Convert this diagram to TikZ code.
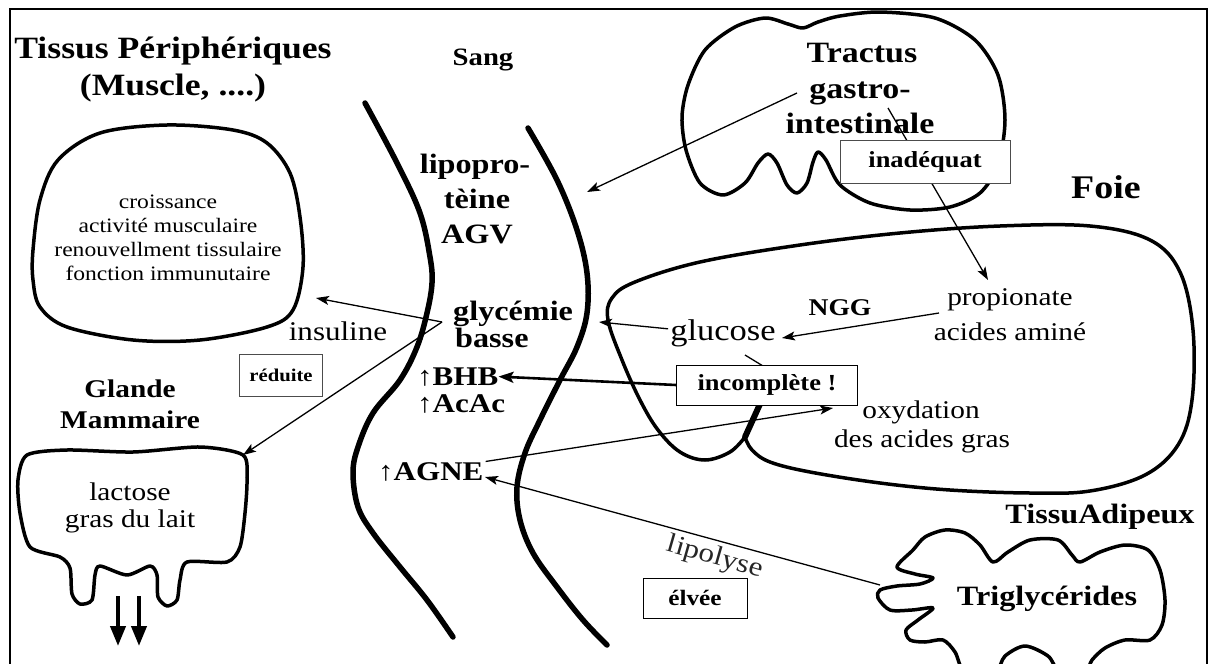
\documentclass[tikz,border=0pt]{standalone}
\usepackage{fontspec}
\setmainfont{Liberation Serif}[FakeStretch=1.15]
\usetikzlibrary{arrows.meta}
\newcommand{\fsz}[1]{\fontsize{#1pt}{#1pt}\selectfont}
\begin{document}
\begin{tikzpicture}[x=1pt,y=-1pt,
  outline/.style={line width=3.5pt, line join=round, line cap=round},
  vessel/.style={line width=5.5pt, line cap=round},
  arr/.style={line width=1.3pt, -{Stealth[length=13pt,width=9pt,inset=3pt]}},
  bigarr/.style={line width=2.6pt, -{Stealth[length=15pt,width=11pt,inset=3pt]}},
  milk/.style={line width=4pt, -{Triangle[length=20pt,width=15pt]}},
  boxed/.style={draw, line width=1pt, fill=white, inner sep=0pt, font=\bfseries\fsz{#1}},
  bl/.style={anchor=base, inner sep=0pt, font=\bfseries\fsz{#1}},
  rl/.style={anchor=base, inner sep=0pt, font=\fsz{#1}},
  blw/.style={anchor=base west, inner sep=0pt, font=\bfseries\fsz{#1}},
]
\useasboundingbox (0,0) rectangle (1213,664);
\clip (0,0) rectangle (1213,664);
\fill[white] (0,0) rectangle (1213,664);
% frame
\draw[line width=1.6pt] (10,680) -- (10,9) -- (1207,9) -- (1207,680);

% peripheral tissue blob
\draw[outline] plot[smooth cycle, tension=0.55] coordinates {
 (100,133) (167,125) (233,130) (267,143) (290,173) (300,217) (303,267)
 (293,310) (267,327) (200,340) (133,340) (67,327) (40,307) (33,280)
 (33,250) (40,200) (58,160)};

% mammary gland
\draw[outline] plot[smooth cycle, tension=0.45] coordinates {
 (27,455) (67,450) (133,452) (200,447) (243,455) (247,480) (245,513)
 (240,547) (227,562) (187,562) (180,580) (177,600) (167,606) (158,597)
 (157,575) (150,566) (127,575) (100,566) (95,575) (92,600) (80,604)
 (72,594) (70,568) (60,557) (30,547) (20,513) (18,480)};

% blood vessel walls
\draw[vessel] plot[smooth, tension=0.6] coordinates {
 (365,103) (397,163) (420,213) (430,257) (432,283) (427,313) (417,347)
 (400,380) (373,413) (358,447) (353,473) (358,507) (373,533) (400,567)
 (427,600) (453,637)};
\draw[vessel] plot[smooth, tension=0.6] coordinates {
 (528,128) (557,180) (577,230) (587,273) (587,313) (577,347) (560,380)
 (540,420) (525,453) (517,487) (520,520) (533,553) (557,587) (583,620)
 (607,645)};

% gastro-intestinal tract
\draw[outline] plot[smooth cycle, tension=0.5] coordinates {
 (682,117) (686,150) (700,183) (723,195) (745,183) (758,163) (768,154)
 (777,163) (787,185) (797,193) (807,183) (813,162) (818,152) (826,160)
 (840,185) (870,203) (910,210) (950,207) (980,193) (998,165) (1005,120)
 (998,75) (975,40) (935,18) (880,12) (840,16) (818,22) (803,28) (788,24)
 (765,18) (735,27) (705,50) (688,85)};

% liver
\draw[outline] plot[smooth, tension=0.6] coordinates {
 (745,437) (730,452) (705,460) (680,452) (658,430) (640,400) (622,360)
 (608,320) (612,298) (635,282) (700,262) (800,245) (900,233) (1000,226)
 (1090,226) (1150,240) (1180,272) (1193,330) (1192,400) (1178,445)
 (1145,475) (1090,491) (1030,493) (950,490) (880,483) (810,472) (770,462)
 (752,450) (745,437)};
\draw[line width=6pt, line cap=round] (745,437) -- (760,404);

% adipose tissue
\draw[outline] plot[smooth cycle, tension=0.5] coordinates {
 (897,567) (913,550) (925,537) (945,530) (965,533) (980,545) (993,562)
 (1008,552) (1030,540) (1058,540) (1072,555) (1080,562) (1100,552)
 (1125,545) (1148,550) (1160,570) (1165,600) (1162,625) (1150,640)
 (1125,640) (1105,648) (1092,660) (1085,672) (1060,672) (1048,656)
 (1025,646) (1005,656) (995,672) (965,672) (955,652) (943,640) (925,642)
 (910,640) (906,630) (918,620) (933,608) (912,610) (890,610) (878,598)
 (880,590) (897,586) (920,584) (933,578) (915,574)};

% named points
\coordinate (iv) at (442,322);
\coordinate (pbox) at (316,298);
\coordinate (mbox) at (243,455);
\coordinate (gitS) at (797,93);
\coordinate (sangR) at (587,192);
\coordinate (gitA) at (888,108);
\coordinate (propA) at (988,280);
\coordinate (adipA) at (880,585);
\coordinate (teat1) at (118,596);
\coordinate (teat1e) at (118,646);
\coordinate (teat2) at (139,596);
\coordinate (teat2e) at (139,646);

% text nodes
\node[bl=31] (t1) at (173,58) {Tissus Périphériques};
\node[bl=31] (t2) at (173,95) {(Muscle, ....)};
\node[bl=25] (sang) at (483,65) {Sang};
\node[rl=20.5] (c1) at (168,208) {croissance};
\node[rl=20.5] (c2) at (168,232) {activité musculaire};
\node[rl=20.5] (c3) at (168,256) {renouvellment tissulaire};
\node[rl=20.5] (c4) at (168,280) {fonction immunutaire};
\node[bl=28] (l1) at (475,173) {lipopro-};
\node[bl=28] (l2) at (477,208) {tèine};
\node[bl=28] (l3) at (477,243) {AGV};
\node[blw=28] (g1) at (453,320) {glycémie};
\node[blw=28] (g2) at (455,347) {basse};
\node[blw=27] (bhb) at (417,385) {↑BHB};
\node[blw=27] (acac) at (417,412) {↑AcAc};
\node[blw=27] (agne) at (378,480) {↑AGNE};
\node[rl=27] (ins) at (338,340) {insuline};
\node[bl=25.5] (gl1) at (130,397) {Glande};
\node[bl=25.5] (gl2) at (130,428) {Mammaire};
\node[rl=25.5] (la1) at (130,500) {lactose};
\node[rl=25.5] (la2) at (130,527) {gras du lait};
\node[bl=29.5] (tr1) at (862,62) {Tractus};
\node[bl=29.5] (tr2) at (860,98) {gastro-};
\node[bl=29.5] (tr3) at (860,133) {intestinale};
\node[bl=33] (foie) at (1106,198) {Foie};
\node[rl=30] (glu) at (723,340) {glucose};
\node[bl=24] (ngg) at (840,315) {NGG};
\node[rl=25.5] (p1) at (1010,305) {propionate};
\node[rl=25.5] (p2) at (1010,340) {acides aminé};
\node[rl=25.5] (o1) at (921,418) {oxydation};
\node[rl=25.5] (o2) at (922,447) {des acides gras};
\node[bl=28] (ta) at (1100,523) {TissuAdipeux};
\node[bl=28] (tg) at (1047,605) {Triglycérides};
\node[inner sep=0pt, font=\fsz{27}, rotate=-16, text=black!85] (lip) at (715,558) {lipolyse};

% connectors
\draw[arr] (iv) -- (pbox);
\draw[arr] (iv) -- (mbox);
\draw[arr] (gitS) -- (sangR);
\draw[arr] (gitA) -- (propA);
\draw[arr] (glu.west) ++(-2,-4) coordinate (gluW) (gluW) -- (599,322);
\draw[arr] (939,313) -- (782,338);
\draw[line width=1.3pt] (745,355) -- (763,366);
\draw[arr] (agne.east) ++(2,-10) coordinate (agneE) (agneE) -- (833,408);
\draw[arr] (adipA) -- (485,477);
\draw[milk] (teat1) -- (teat1e);
\draw[milk] (teat2) -- (teat2e);

% boxes
\node[boxed=23, minimum width=170pt, minimum height=43pt, draw=black!70] (inad) at (925,162) {inadéquat};
\node[boxed=23, minimum width=181pt, minimum height=40pt] (inc) at (767,385) {incomplète !};
\node[boxed=18, minimum width=83pt, minimum height=42pt, draw=black!70] (red) at (281,375) {réduite};
\node[boxed=22, minimum width=104pt, minimum height=40pt] (elv) at (695,598) {élvée};
\draw[bigarr] (inc.west) -- (bhb.east);
\end{tikzpicture}
\end{document}
